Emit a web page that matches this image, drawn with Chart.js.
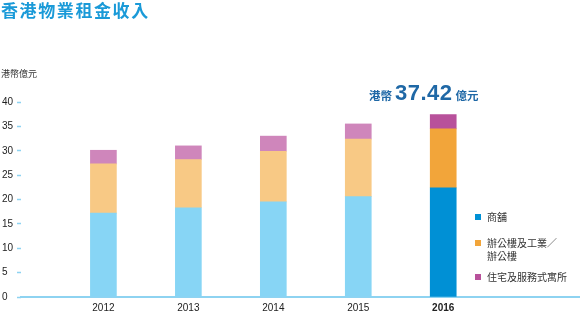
<!DOCTYPE html>
<html>
<head>
<meta charset="utf-8">
<script src="https://cdn.jsdelivr.net/npm/chart.js@4"></script>
<style>
  body { margin: 0; background: #fff; font-family: 'Liberation Sans', 'Noto Sans CJK TC', sans-serif; }
  #wrap { position: relative; width: 580px; height: 314px; }
  #title { position: absolute; left: 1px; top: 0px; font-size: 17px; font-weight: bold; color: #1a9ad8; letter-spacing: 1.6px; font-family: 'Noto Sans CJK TC', sans-serif; line-height: 20px; }
  #unit { position: absolute; left: 1px; top: 67px; font-size: 9px; color: #333; font-family: 'Noto Sans CJK TC', sans-serif; }
  #total { position: absolute; left: 369px; top: 80px; color: #1f68a6; font-weight: bold; white-space: nowrap; font-family: 'Noto Sans CJK TC', sans-serif; }
  #total .cn { font-size: 11.5px; }
  #total .num { font-size: 22px; font-family: 'Liberation Sans', sans-serif; letter-spacing: 0.5px; margin: 0 3px; }
  #legend { position: absolute; left: 475px; top: 210px; font-size: 10px; color: #333; font-family: 'Noto Sans CJK TC', sans-serif; }
  .item { position: relative; padding-left: 12px; line-height: 13px; }
  .item span.box { position: absolute; left: 0; top: 4px; width: 6px; height: 6px; }
  canvas { position: absolute; left: 0; top: 0; }
</style>
</head>
<body>
<div id="wrap">
  <canvas id="rentChart" width="580" height="314"></canvas>
  <div id="title">香港物業租金收入</div>
  <div id="unit">港幣億元</div>
  <div id="total"><span class="cn">港幣</span><span class="num">37.42</span><span class="cn">億元</span></div>
  <div id="legend"></div>
</div>
<script>
const years = [2012, 2013, 2014, 2015, 2016];
const retail = [17.2, 18.3, 19.5, 20.6, 22.4];
const office = [10.1, 9.9, 10.4, 11.8, 12.1];
const residential = [2.8, 2.8, 3.1, 3.1, 2.92];
const seriesNames = ['商舖', '辦公樓及工業／\n辦公樓', '住宅及服務式寓所'];
const yTicks = [0, 5, 10, 15, 20, 25, 30, 35, 40];

const lightColors = ['#87d5f5', '#f8c985', '#cf86bb'];
const darkColors = ['#0090d5', '#f2a53a', '#b8519b'];

function makeSet(name, values, i) {
    return {
        label: name,
        data: values.map((v, k) => ({ x: years[k], y: v })),
        backgroundColor: years.map((y, k) => k === years.length - 1 ? darkColors[i] : lightColors[i]),
        barThickness: 26,
        borderWidth: 0
    };
}

const ctx = document.getElementById('rentChart').getContext('2d');
const rentChart = new Chart(ctx, {
    type: 'bar',
    data: {
        datasets: [
            makeSet(seriesNames[0], retail, 0),
            makeSet(seriesNames[1], office, 1),
            makeSet(seriesNames[2], residential, 2)
        ]
    },
    options: {
        responsive: false,
        animation: false,
        layout: { padding: { left: 2, top: 102, right: 0, bottom: 0 } },
        plugins: { legend: { display: false }, tooltip: { enabled: false } },
        scales: {
            x: {
                type: 'linear',
                stacked: true,
                offset: false,
                min: 2011.03,
                max: 2017.61,
                afterBuildTicks: function (scale) {
                    scale.ticks = years.map(v => ({ value: v }));
                },
                afterFit: function (scale) { scale.height = 17; },
                ticks: {
                    padding: -3,
                    color: '#222',
                    font: function (c) {
                        const last = c.tick && c.tick.value === years[years.length - 1];
                        return { family: "'Liberation Sans', sans-serif", size: 10, weight: last ? 'bold' : 'normal' };
                    },
                    callback: v => String(v)
                },
                grid: { display: false, offset: false },
                border: { display: true, color: '#8ed3f1', width: 2 }
            },
            y: {
                stacked: true,
                min: 0,
                max: 40,
                afterBuildTicks: function (scale) {
                    scale.ticks = yTicks.map(v => ({ value: v }));
                },
                afterFit: function (scale) { scale.width = 19; },
                ticks: {
                    crossAlign: 'far',
                    color: '#222',
                    font: { family: "'Liberation Sans', sans-serif", size: 10 }
                },
                grid: { drawOnChartArea: false, drawTicks: true, tickLength: 4, tickColor: '#8ed3f1', tickWidth: 1.5 },
                border: { display: false }
            }
        }
    }
});

// html legend built from the datasets
const legend = document.getElementById('legend');
const legendTops = [0, 26, 60];
rentChart.data.datasets.forEach(function (ds, i) {
    const div = document.createElement('div');
    div.className = 'item';
    div.style.position = 'absolute';
    div.style.top = legendTops[i] + 'px';
    div.style.whiteSpace = 'pre';
    div.innerHTML = '<span class="box" style="background:' + darkColors[i] + '"></span>';
    div.appendChild(document.createTextNode(ds.label));
    legend.appendChild(div);
});
</script>
</body>
</html>
